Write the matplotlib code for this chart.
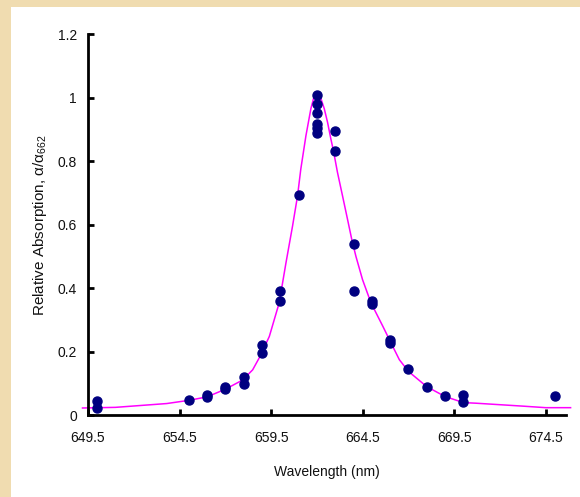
import matplotlib
matplotlib.use("Agg")
import matplotlib.pyplot as plt
from matplotlib.patches import Rectangle

plt.rcParams["font.family"] = ["Liberation Sans", "DejaVu Sans"]
plt.rcParams["mathtext.fontset"] = "custom"
plt.rcParams["mathtext.rm"] = "Liberation Sans"
plt.rcParams["mathtext.it"] = "Liberation Sans:italic"

# Measured absorption, normalised to the 662 nm peak
wavelength = [650, 650, 655, 656, 656, 657, 657, 658, 658, 659, 659, 660, 660,
              661, 662, 662, 662, 662, 662, 662, 663, 663, 664, 664, 665, 665,
              666, 666, 667, 668, 669, 670, 670, 675]
rel_abs = [0.046, 0.024, 0.049, 0.065, 0.058, 0.090, 0.083, 0.120, 0.098,
           0.220, 0.195, 0.390, 0.361, 0.693, 1.007, 0.981, 0.952, 0.917,
           0.905, 0.889, 0.894, 0.831, 0.538, 0.392, 0.360, 0.350, 0.238,
           0.227, 0.147, 0.089, 0.060, 0.065, 0.043, 0.060]

# Fitted line profile
fit_wl = [649.2, 651.0, 653.8, 655.0, 656.0, 657.0, 657.94, 658.49, 658.89,
          659.4, 659.94, 660.31, 660.67, 660.94, 661.12, 661.4, 661.67, 661.85,
          661.98, 662.2, 662.4, 662.58, 662.76, 662.9, 663.12, 663.4, 663.67,
          663.9, 664.13, 664.49, 664.95, 665.6, 666.0, 666.5, 667.0, 668.0,
          669.0, 670.0, 670.7, 673.2, 674.5, 675.85]
fit_abs = [0.023, 0.025, 0.037, 0.047, 0.058, 0.082, 0.111, 0.143, 0.185,
           0.248, 0.354, 0.48, 0.596, 0.69, 0.775, 0.88, 0.965, 1.005,
           1.015, 1.0, 0.965, 0.922, 0.87, 0.833, 0.765, 0.69, 0.617,
           0.554, 0.50, 0.427, 0.354, 0.28, 0.233, 0.175, 0.138, 0.09,
           0.059, 0.04, 0.038, 0.029, 0.024, 0.024]

x_ticks = [649.5, 654.5, 659.5, 664.5, 669.5, 674.5]
y_ticks = [0, 0.2, 0.4, 0.6, 0.8, 1.0, 1.2]
y_tick_labels = ["0", "0.2", "0.4", "0.6", "0.8", "1", "1.2"]

W, H = 580, 497
fig = plt.figure(figsize=(W / 100, H / 100), dpi=100)
fig.patch.set_facecolor("#f0dcb0")
fig.patches.append(Rectangle((11 / W, 0), 1, 1 - 7 / H, transform=fig.transFigure,
                             facecolor="white", edgecolor="none", zorder=-10))

ax = fig.add_axes([88 / W, 1 - 415.3 / H, (566 - 88) / W, (415.3 - 34) / H])
ax.set_facecolor("none")

ax.plot(fit_wl, fit_abs, color="#ff00ff", lw=1.1, clip_on=False, zorder=2)
ax.plot(wavelength, rel_abs, "o", color="#000080", ms=6.5, mec="#000080",
        clip_on=False, zorder=3)

ax.set_xlim(649.5, 675.6)
ax.set_ylim(0, 1.2)
ax.set_xticks(x_ticks)
ax.set_xticklabels([f"{t:.1f}" for t in x_ticks])
ax.set_yticks(y_ticks)
ax.set_yticklabels(y_tick_labels)

for side in ("top", "right"):
    ax.spines[side].set_visible(False)
for side in ("left", "bottom"):
    ax.spines[side].set_linewidth(2.0)
    ax.spines[side].set_color("black")

ax.tick_params(axis="both", direction="in", length=4, width=2, colors="black",
               labelcolor="#111111", labelsize=10)
ax.tick_params(axis="x", pad=11)
ax.tick_params(axis="y", pad=8)

ax.set_xlabel("Wavelength (nm)", fontsize=10, color="#111111")
ax.set_ylabel(r"Relative Absorption, α/α$_{662}$", fontsize=11, color="#111111")
ax.xaxis.set_label_coords(0.5, (415.3 - 472) / (415.3 - 34))
ax.xaxis.label.set_va("center")
ax.yaxis.set_label_coords((40 - 88) / (566 - 88), 0.5)
ax.yaxis.label.set_va("center")

fig.savefig("out.png", dpi=100, facecolor=fig.get_facecolor())
